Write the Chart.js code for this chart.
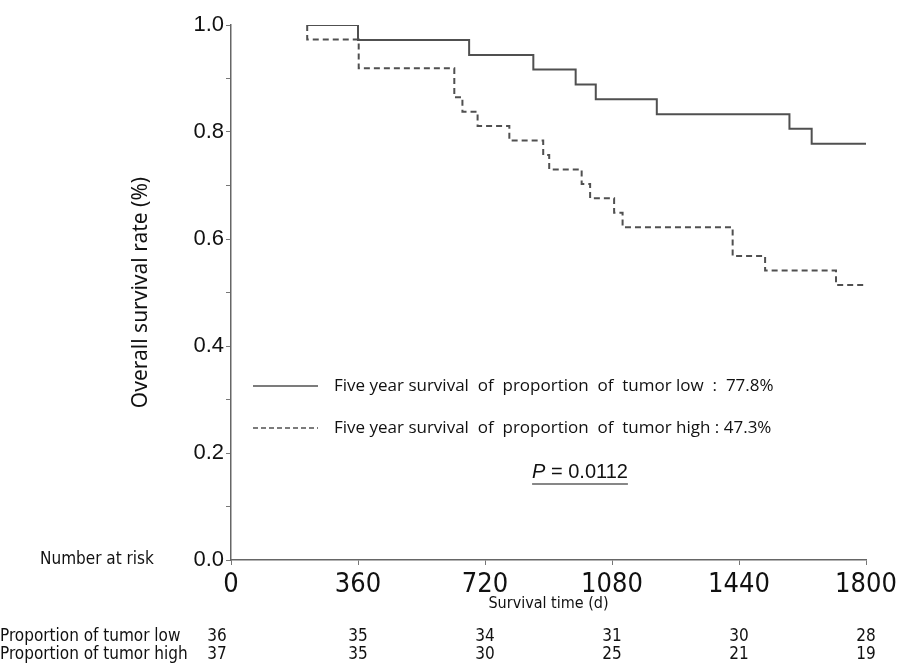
<!DOCTYPE html>
<html>
<head>
<meta charset="utf-8">
<script src="https://cdn.jsdelivr.net/npm/chart.js@4/dist/chart.umd.min.js"></script>
<style>
html, body { margin: 0; padding: 0; background: #fff; }
#wrap { width: 907px; height: 667px; position: relative; }
</style>
</head>
<body>
<div id="wrap"><canvas id="kmChart" width="907" height="667"></canvas></div>
<script>
// Kaplan-Meier steps: day of event and survival after it
const lowDays = [216, 360, 675, 857, 977, 1034, 1207, 1583, 1646, 1800];
const lowSurv = [1.0, 0.972, 0.944, 0.917, 0.889, 0.861, 0.833, 0.806, 0.778, 0.778];
const highDays = [216, 216, 362, 633, 656, 699, 789, 885, 902, 994, 1018, 1086, 1110, 1422, 1514, 1715, 1800];
const highSurv = [1.0, 0.973, 0.919, 0.865, 0.838, 0.811, 0.784, 0.757, 0.730, 0.703, 0.676, 0.649, 0.622, 0.568, 0.541, 0.514, 0.514];

// axis ticks and number at risk
const xTicks = [0, 360, 720, 1080, 1440, 1800];
const riskLow = [36, 35, 34, 31, 30, 28];
const riskHigh = [37, 35, 30, 25, 21, 19];

const legendLow = "Five year survival  of  proportion  of  tumor low  :  77.8%";
const legendHigh = "Five year survival  of  proportion  of  tumor high : 47.3%";
const pValue = "0.0112";

const lineColor = "#505050";
const narrow = '"Liberation Sans Narrow", "DejaVu Sans Condensed", sans-serif';

function toPoints(days, surv) {
  return days.map((d, i) => ({ x: d, y: surv[i] }));
}

// extra texts: y title, legend, p value, risk table
const annotate = {
  id: "annotate",
  afterDraw(chart) {
    const ctx = chart.ctx;
    const xs = chart.scales.x;
    const ys = chart.scales.y;

    ctx.save();
    ctx.fillStyle = "#111";
    ctx.font = '21px "Noto Sans", sans-serif';
    ctx.translate(141, (ys.top + ys.bottom) / 2);
    ctx.rotate(-Math.PI / 2);
    ctx.textAlign = "center";
    ctx.textBaseline = "middle";
    ctx.fillText("Overall survival rate (%)", 0, 0);
    ctx.restore();

    // legend
    ctx.save();
    ctx.strokeStyle = lineColor;
    ctx.lineWidth = 1.5;
    ctx.beginPath();
    ctx.moveTo(253, 386);
    ctx.lineTo(318, 386);
    ctx.stroke();
    ctx.setLineDash([5, 3]);
    ctx.beginPath();
    ctx.moveTo(253, 428);
    ctx.lineTo(318, 428);
    ctx.stroke();
    ctx.setLineDash([]);
    ctx.fillStyle = "#111";
    ctx.font = '17px "Open Sans", sans-serif';
    ctx.textAlign = "left";
    ctx.textBaseline = "middle";
    ctx.fillText(legendLow, 334, 386);
    ctx.fillText(legendHigh, 334, 428);

    // p value, underlined
    ctx.font = 'italic 20px "Liberation Sans", sans-serif';
    const pw = ctx.measureText("P").width;
    ctx.font = '20px "Liberation Sans", sans-serif';
    const rest = " = " + pValue;
    const rw = ctx.measureText(rest).width;
    const px = 580 - (pw + rw) / 2;
    ctx.font = 'italic 20px "Liberation Sans", sans-serif';
    ctx.fillText("P", px, 472);
    ctx.font = '20px "Liberation Sans", sans-serif';
    ctx.fillText(rest, px + pw, 472);
    ctx.strokeStyle = "#111";
    ctx.lineWidth = 1.2;
    ctx.beginPath();
    ctx.moveTo(px, 484);
    ctx.lineTo(px + pw + rw, 484);
    ctx.stroke();

    // number at risk
    ctx.font = "17px " + narrow;
    ctx.textAlign = "left";
    ctx.fillText("Number at risk", 40, 560);
    ctx.textAlign = "center";
    ctx.font = "16px " + narrow;
    ctx.fillText("Survival time (d)", (xs.left + xs.right) / 2, 604);
    ctx.font = "17px " + narrow;
    ctx.textAlign = "left";
    ctx.fillText("Proportion of tumor low", 0, 637);
    ctx.fillText("Proportion of tumor high", 0, 655);
    ctx.textAlign = "center";
    xTicks.forEach((t, i) => {
      let x = xs.getPixelForValue(t);
      if (i === 0) x -= 14;
      ctx.fillText(String(riskLow[i]), x, 637);
      ctx.fillText(String(riskHigh[i]), x, 655);
    });
    ctx.restore();
  }
};

new Chart("kmChart", {
  type: "line",
  data: {
    datasets: [{
      label: "low",
      data: toPoints(lowDays, lowSurv),
      borderColor: lineColor,
      borderWidth: 2,
      stepped: "before",
      pointRadius: 0,
      fill: false
    }, {
      label: "high",
      data: toPoints(highDays, highSurv),
      borderColor: lineColor,
      borderWidth: 2,
      borderDash: [6, 4],
      stepped: "before",
      pointRadius: 0,
      fill: false
    }]
  },
  options: {
    responsive: false,
    animation: false,
    layout: { padding: { left: 170, right: 41, top: 25, bottom: 0 } },
    plugins: {
      legend: { display: false },
      tooltip: { enabled: false }
    },
    scales: {
      x: {
        type: "linear",
        min: 0,
        max: 1800,
        afterBuildTicks: (scale) => { scale.ticks = xTicks.map(v => ({ value: v })); },
        afterFit: (scale) => { scale.height = 107; },
        grid: { drawOnChartArea: false, tickLength: 5, color: "#777" },
        border: { color: "#666", width: 1.5 },
        ticks: {
          color: "#111",
          font: { family: narrow, size: 27 },
          padding: 4,
          maxRotation: 0,
          callback: (v) => String(v)
        }
      },
      y: {
        min: 0,
        max: 1,
        afterFit: (scale) => { scale.width = 61; },
        grid: { drawOnChartArea: false, tickLength: 5, color: "#777" },
        border: { color: "#666", width: 1.5 },
        ticks: {
          stepSize: 0.1,
          color: "#111",
          font: { family: '"Liberation Sans", Arial, sans-serif', size: 22 },
          padding: 2,
          callback: (v) => {
            const r = Math.round(v * 10);
            return r % 2 === 0 ? (r / 10).toFixed(1) : "";
          }
        }
      }
    }
  },
  plugins: [annotate]
});
</script>
</body>
</html>
